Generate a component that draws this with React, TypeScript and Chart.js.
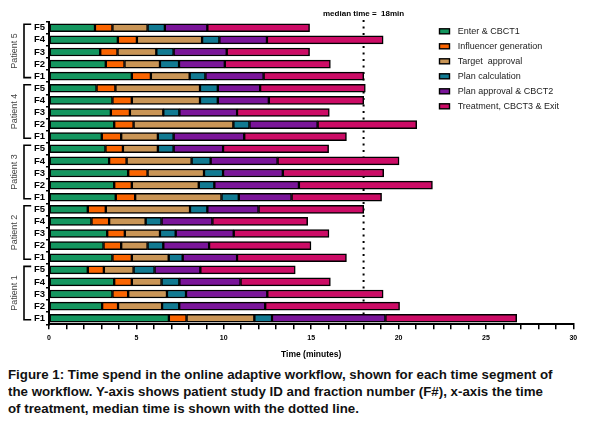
import { useEffect, useRef } from 'react';
import { Chart, registerables } from 'chart.js';

Chart.register(...registerables);

const FONT = "'Liberation Sans', Arial, Helvetica, sans-serif";

// Rows top to bottom
const fractionLabels = [
  'F5', 'F4', 'F3', 'F2', 'F1',
  'F5', 'F4', 'F3', 'F2', 'F1',
  'F5', 'F4', 'F3', 'F2', 'F1',
  'F5', 'F4', 'F3', 'F2', 'F1',
  'F5', 'F4', 'F3', 'F2', 'F1',
];
const patientLabels = ['Patient 5', 'Patient 4', 'Patient 3', 'Patient 2', 'Patient 1'];

const segmentNames = [
  'Enter & CBCT1',
  'Influencer generation',
  'Target  approval',
  'Plan calculation',
  'Plan approval & CBCT2',
  'Treatment, CBCT3 & Exit',
];
const segmentColors = ['#14965f', '#fa6400', '#c99556', '#117a92', '#7a1599', '#cc0c66'];

// durations in minutes per segment
const enterCbct1 = [
  2.63, 3.94, 2.93, 3.25, 4.74,
  2.72, 3.63, 3.54, 3.73, 3.02,
  3.23, 3.44, 4.53, 3.73, 3.82,
  2.22, 2.43, 3.33, 3.12, 3.63,
  2.22, 3.73, 3.63, 3.04, 6.86,
];
const influencerGeneration = [
  1.00, 1.09, 0.99, 1.07, 1.09,
  1.08, 1.11, 1.09, 1.11, 1.11,
  1.00, 1.00, 1.11, 1.01, 1.11,
  1.03, 1.01, 1.01, 1.01, 1.11,
  0.92, 1.01, 0.90, 0.91, 1.01,
];
const targetApproval = [
  2.01, 3.73, 2.22, 2.03, 2.22,
  4.84, 3.90, 1.91, 5.71, 2.10,
  2.00, 3.72, 3.23, 3.83, 4.94,
  4.82, 2.09, 2.01, 1.51, 2.11,
  1.70, 1.70, 2.22, 2.52, 3.88,
];
const planCalculation = [
  0.99, 0.99, 0.99, 1.09, 0.90,
  1.02, 1.02, 0.92, 0.92, 0.90,
  0.90, 1.09, 1.09, 0.89, 0.99,
  0.99, 0.91, 0.90, 0.90, 0.80,
  1.20, 1.02, 1.09, 0.98, 1.01,
];
const planApprovalCbct2 = [
  2.43, 2.72, 3.04, 2.62, 3.33,
  2.42, 2.92, 3.30, 3.90, 4.04,
  2.83, 3.83, 3.42, 4.84, 3.02,
  2.93, 2.91, 3.32, 2.62, 3.11,
  2.62, 3.50, 4.65, 4.92, 6.49,
];
const treatmentCbct3Exit = [
  5.85, 6.65, 4.74, 6.04, 5.73,
  6.02, 5.43, 5.28, 5.67, 5.85,
  6.04, 6.95, 5.77, 7.64, 5.15,
  6.02, 5.45, 5.45, 5.83, 6.26,
  5.43, 5.14, 6.63, 7.69, 7.51,
];
const seriesValues = [
  enterCbct1,
  influencerGeneration,
  targetApproval,
  planCalculation,
  planApprovalCbct2,
  treatmentCbct3Exit,
];

const medianTime = 18;
const medianLabel = 'median time =  18min';
const xMin = 0;
const xMax = 30;
const xLabelEvery = 5;
const xTitle = 'Time (minutes)';

const caption = [
  'Figure 1: Time spend in the online adaptive workflow, shown for each time segment of',
  'the workflow. Y-axis shows patient study ID and fraction number (F#), x-axis the time',
  'of treatment, median time is shown with the dotted line.',
];

const decorPlugin = {
  id: 'decor',
  beforeDatasetsDraw(chart: any) {
    const { ctx, scales } = chart;
    const x = scales.x.getPixelForValue(medianTime);
    ctx.save();
    ctx.strokeStyle = '#000';
    ctx.lineWidth = 2;
    ctx.setLineDash([2, 4.5]);
    ctx.beginPath();
    ctx.moveTo(x, 12);
    ctx.lineTo(x, chart.chartArea.bottom - 1);
    ctx.stroke();
    ctx.restore();
  },
  afterDraw(chart: any) {
    const { ctx, scales } = chart;
    const y = scales.y;
    ctx.save();
    // median label
    ctx.fillStyle = '#000';
    ctx.font = `bold 8px ${FONT}`;
    ctx.textAlign = 'center';
    ctx.textBaseline = 'middle';
    ctx.fillText(medianLabel, scales.x.getPixelForValue(medianTime), 5.5);

    // patient brackets
    patientLabels.forEach((name, g) => {
      const top = y.getPixelForValue(g * 5) - 3.5;
      const bottom = y.getPixelForValue(g * 5 + 4) + 1.5;
      ctx.strokeStyle = '#000';
      ctx.lineWidth = 1.6;
      ctx.setLineDash([]);
      ctx.beginPath();
      ctx.moveTo(23.2, top);
      ctx.lineTo(16, top);
      ctx.lineTo(16, bottom);
      ctx.lineTo(23.2, bottom);
      ctx.stroke();
      ctx.save();
      ctx.translate(7, (top + bottom) / 2);
      ctx.rotate(-Math.PI / 2);
      ctx.fillStyle = '#444';
      ctx.font = `9px ${FONT}`;
      ctx.textAlign = 'center';
      ctx.textBaseline = 'middle';
      ctx.fillText(name, 0, 0);
      ctx.restore();
    });

    // legend
    segmentNames.forEach((name, i) => {
      const cy = 23.3 + 15 * i;
      ctx.fillStyle = segmentColors[i];
      ctx.fillRect(431.5, cy - 2.5, 10, 5);
      ctx.strokeStyle = '#000';
      ctx.lineWidth = 1.4;
      ctx.strokeRect(431.5, cy - 2.5, 10, 5);
      ctx.fillStyle = '#222';
      ctx.font = `9px ${FONT}`;
      ctx.textAlign = 'left';
      ctx.textBaseline = 'middle';
      ctx.fillText(name, 449.7, cy);
    });
    ctx.restore();
  },
};

function ChartView() {
  const ref = useRef<HTMLCanvasElement | null>(null);
  useEffect(() => {
    if (!ref.current) return;
    Chart.defaults.font.family = FONT;
    const chart = new Chart(ref.current, {
      type: 'bar',
      data: {
        labels: fractionLabels,
        datasets: seriesValues.map((vals, i) => ({
          label: segmentNames[i],
          data: vals,
          backgroundColor: segmentColors[i],
          borderColor: '#000',
          borderWidth: 1.5,
          borderSkipped: false,
          barThickness: 8,
        })),
      },
      options: {
        indexAxis: 'y',
        animation: false,
        responsive: true,
        maintainAspectRatio: false,
        layout: { padding: { left: 0, right: 18.7, top: 13.7, bottom: 0 } },
        plugins: {
          legend: { display: false },
          tooltip: { enabled: false },
        },
        scales: {
          x: {
            type: 'linear',
            stacked: true,
            min: xMin,
            max: xMax,
            afterFit: (s: any) => { s.height = 35.7; },
            ticks: {
              stepSize: 1,
              autoSkip: false,
              maxRotation: 0,
              padding: 5,
              color: '#000',
              font: { size: 7, weight: 'bold' },
              callback: (v: any) => (Number(v) % xLabelEvery === 0 ? String(v) : ''),
            },
            grid: {
              drawOnChartArea: false,
              drawTicks: true,
              tickLength: 5,
              color: '#000',
              lineWidth: 1.5,
            },
            border: { display: true, color: '#000', width: 2 },
            title: {
              display: true,
              text: xTitle,
              color: '#000',
              font: { size: 8.5, weight: 'bold' },
              padding: { top: 0, bottom: 0 },
            },
          },
          y: {
            stacked: true,
            afterFit: (s: any) => { s.width = 41; },
            ticks: {
              autoSkip: false,
              padding: 1,
              color: '#000',
              font: { size: 9.5, weight: 'bold' },
            },
            grid: {
              drawOnChartArea: false,
              drawTicks: true,
              tickLength: 3,
              color: '#000',
              lineWidth: 1.5,
            },
            border: { display: true, color: '#000', width: 2 },
          },
        },
      } as any,
      plugins: [decorPlugin],
    });
    return () => chart.destroy();
  }, []);
  return (
    <div style={{ position: 'absolute', left: 0, top: 0, width: 584, height: 352 }}>
      <canvas ref={ref} />
    </div>
  );
}

export default function App() {
  return (
    <div style={{ position: 'relative', width: 584, height: 409 }}>
      <ChartView />
      <div
        style={{
          position: 'absolute',
          left: 0,
          top: 357.5,
          fontFamily: FONT,
          fontWeight: 'bold',
          fontSize: 13.3,
          lineHeight: '17px',
          color: '#111',
          whiteSpace: 'nowrap',
        }}
      >
        {caption.map((line, i) => (
          <div key={i}>{line}</div>
        ))}
      </div>
    </div>
  );
}
